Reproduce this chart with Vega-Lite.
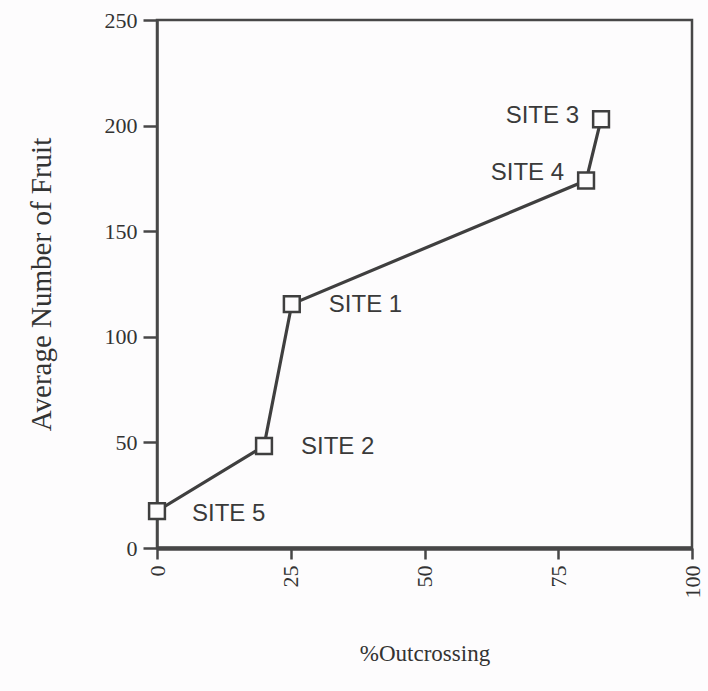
{
  "$schema": "https://vega.github.io/schema/vega-lite/v6.json",
  "autosize": "none",
  "width": 535,
  "height": 528,
  "padding": {"left": 157, "top": 20, "right": 16, "bottom": 143},
  "background": "#fdfcfd",
  "config": {
    "view": {"stroke": "#474747", "strokeWidth": 2.5},
    "axis": {
      "grid": false,
      "labelFont": "Liberation Serif",
      "titleFont": "Liberation Serif",
      "labelColor": "#333",
      "titleColor": "#333",
      "tickColor": "#474747",
      "domainColor": "#474747",
      "labelFontSize": 22,
      "titleFontSize": 22,
      "titleFontWeight": "normal"
    }
  },
  "data": {
    "values": [
      {"site": "SITE 5", "outcrossing": 0, "fruit": 17.5},
      {"site": "SITE 2", "outcrossing": 20, "fruit": 48.3},
      {"site": "SITE 1", "outcrossing": 25.2, "fruit": 115.5},
      {"site": "SITE 4", "outcrossing": 80.2, "fruit": 174},
      {"site": "SITE 3", "outcrossing": 83, "fruit": 203}
    ]
  },
  "encoding": {
    "x": {
      "field": "outcrossing",
      "type": "quantitative",
      "scale": {"domain": [0, 100], "nice": false},
      "axis": {
        "values": [0, 25, 50, 75, 100],
        "title": "%Outcrossing",
        "titleFontSize": 23,
        "labelAngle": 270,
        "labelAlign": "right",
        "labelBaseline": "middle",
        "labelPadding": 6,
        "tickSize": 11,
        "tickWidth": 2.5,
        "domainWidth": 4.5,
        "titlePadding": 44
      }
    },
    "y": {
      "field": "fruit",
      "type": "quantitative",
      "scale": {"domain": [0, 250], "nice": false},
      "axis": {
        "values": [0, 50, 100, 150, 200, 250],
        "title": "Average Number of Fruit",
        "titleFontSize": 29,
        "tickSize": 14,
        "tickWidth": 2.5,
        "domainWidth": 2.5,
        "labelPadding": 6,
        "titlePadding": 48
      }
    }
  },
  "layer": [
    {
      "mark": {"type": "line", "color": "#3f3f3f", "strokeWidth": 3.2},
      "encoding": {"order": {"field": "outcrossing", "type": "quantitative"}}
    },
    {
      "mark": {"type": "point", "shape": "square", "size": 250, "filled": true, "fill": "#fdfcfd", "stroke": "#3f3f3f", "strokeWidth": 2.5, "opacity": 1}
    },
    {
      "transform": [{"filter": "datum.site === 'SITE 5'"}],
      "mark": {"type": "text", "align": "left", "baseline": "middle", "dx": 35, "dy": 3, "font": "Liberation Sans", "fontSize": 24, "color": "#3a3a3a"},
      "encoding": {"text": {"field": "site"}}
    },
    {
      "transform": [{"filter": "datum.site === 'SITE 2' || datum.site === 'SITE 1'"}],
      "mark": {"type": "text", "align": "left", "baseline": "middle", "dx": 37, "dy": 1, "font": "Liberation Sans", "fontSize": 24, "color": "#3a3a3a"},
      "encoding": {"text": {"field": "site"}}
    },
    {
      "transform": [{"filter": "datum.site === 'SITE 4'"}],
      "mark": {"type": "text", "align": "right", "baseline": "middle", "dx": -22, "dy": -8, "font": "Liberation Sans", "fontSize": 24, "color": "#3a3a3a"},
      "encoding": {"text": {"field": "site"}}
    },
    {
      "transform": [{"filter": "datum.site === 'SITE 3'"}],
      "mark": {"type": "text", "align": "right", "baseline": "middle", "dx": -22, "dy": -3, "font": "Liberation Sans", "fontSize": 24, "color": "#3a3a3a"},
      "encoding": {"text": {"field": "site"}}
    }
  ]
}
